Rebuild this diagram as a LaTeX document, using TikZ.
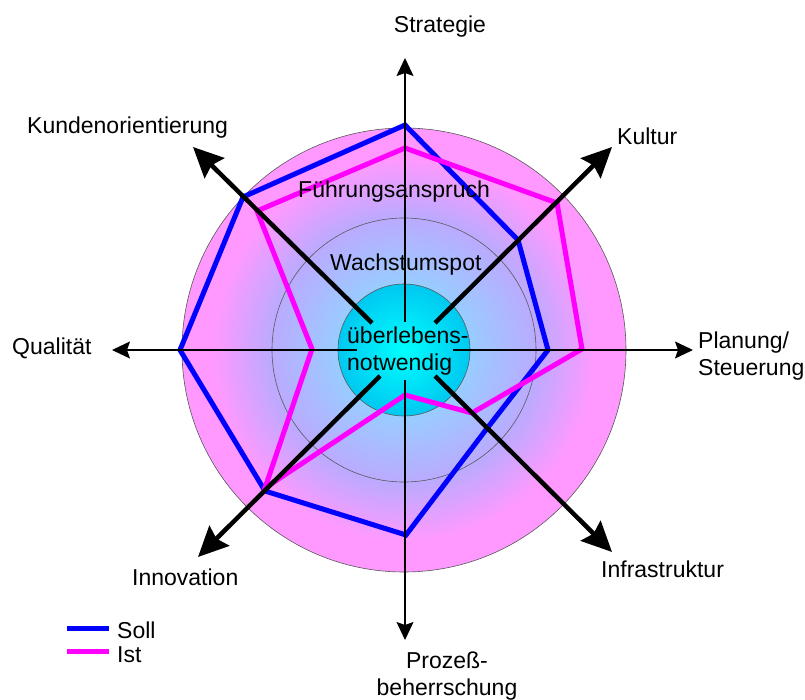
\documentclass[tikz,border=0pt]{standalone}
\usepackage{fontspec}
\setmainfont{Liberation Sans}
\usetikzlibrary{arrows.meta}
\definecolor{ringpink}{HTML}{FF99FF}
\definecolor{ringmid}{HTML}{BBAAFF}
\definecolor{ringin}{HTML}{99CCFF}
\definecolor{ringcore}{HTML}{66E6FF}
\definecolor{corein}{HTML}{00FFFF}
\definecolor{coreout}{HTML}{00C8F0}
\definecolor{sollblue}{HTML}{0000FF}
\definecolor{istmag}{HTML}{FF00FF}
\pgfdeclareradialshading{ringshade}{\pgfpoint{0bp}{0bp}}{color(0bp)=(ringcore); color(7.5bp)=(ringin); color(15bp)=(ringmid); color(21.5bp)=(ringpink); color(50bp)=(ringpink)}
\pgfdeclareradialshading{coreshade}{\pgfpoint{0bp}{0bp}}{color(0bp)=(corein); color(25bp)=(coreout); color(50bp)=(coreout)}
\begin{document}
\begin{tikzpicture}[x=1pt,y=-1pt,
  font=\fontsize{23}{26.5}\selectfont,
  lbl/.style={inner sep=0pt},
  thinaxis/.style={line width=1.3pt,-{Stealth[length=18pt,width=17pt,inset=3pt]}},
  bigarrow/.style={line width=4.5pt,-{Stealth[length=30pt,width=28pt,inset=4pt]}},
  soll/.style={draw=sollblue,line width=5pt},
  ist/.style={draw=istmag,line width=5pt},
  ringline/.style={draw=black!65,line width=0.6pt}]
\useasboundingbox (0,0) rectangle (805,700);
\coordinate (C) at (404,350);
% circles
\shade[shading=ringshade] (C) circle[radius=222];
\draw[ringline] (C) circle[radius=222];
\draw[ringline] (C) circle[radius=132];
\shade[shading=coreshade] (C) circle[radius=66];
\draw[ringline] (C) circle[radius=66];
% profiles
\draw[soll] (405,125) -- (518,240) -- (548,350) -- (485,431) -- (406,535) -- (265,491) -- (180,350) -- (243,197) -- cycle;
\draw[ist] (405,148) -- (557,203) -- (582,349) -- (472,413) -- (405,395) -- (265,488) -- (312,349) -- (257,211) -- cycle;
% axis coordinates
\coordinate (nIn) at (405,322); \coordinate (nTip) at (405,58);
\coordinate (sIn) at (405,380); \coordinate (sTip) at (405,640);
\coordinate (wIn) at (357,350); \coordinate (wTip) at (112,350);
\coordinate (eIn) at (453,350); \coordinate (eTip) at (693,350);
\coordinate (nwIn) at (372,323); \coordinate (nwTip) at (193,147);
\coordinate (neIn) at (435,323); \coordinate (neTip) at (612,147);
\coordinate (swIn) at (380,376); \coordinate (swTip) at (198,557);
\coordinate (seIn) at (435,376); \coordinate (seTip) at (612,552);
\draw[thinaxis] (nIn) -- (nTip);
\draw[thinaxis] (sIn) -- (sTip);
\draw[thinaxis] (wIn) -- (wTip);
\draw[thinaxis] (eIn) -- (eTip);
\draw[bigarrow] (nwIn) -- (nwTip);
\draw[bigarrow] (neIn) -- (neTip);
\draw[bigarrow] (swIn) -- (swTip);
\draw[bigarrow] (seIn) -- (seTip);
% labels
\node[lbl,anchor=base] (strat) at (440,33) {Strategie};
\node[lbl,anchor=base west] (kult) at (617,145) {Kultur};
\node[lbl,anchor=base west] (kund) at (27,134) {Kundenorientierung};
\node[lbl,anchor=base west] (qual) at (12,354) {Qualität};
\node[lbl,anchor=west,align=left] (plan) at (698,356) {Planung/\\Steuerung};
\node[lbl,anchor=base west] (inno) at (132,585) {Innovation};
\node[lbl,anchor=base west] (infra) at (601,577) {Infrastruktur};
\node[lbl,align=center] (proz) at (447,676) {Prozeß-\\beherrschung};
\node[lbl,anchor=base west] (fuehr) at (298,198) {Führungsanspruch};
\node[lbl,anchor=base west] (wachs) at (330,271) {Wachstumspot};
\node[lbl,anchor=west,align=left] (ueber) at (347,351) {überlebens-\\notwendig};
% legend
\coordinate (sollA) at (67,628); \coordinate (sollB) at (109,628);
\coordinate (istA) at (67,651); \coordinate (istB) at (109,651);
\draw[soll] (sollA) -- (sollB);
\draw[ist] (istA) -- (istB);
\node[lbl,anchor=base west] (sollT) at (117,638) {Soll};
\node[lbl,anchor=base west] (istT) at (117,662) {Ist};
\end{tikzpicture}
\end{document}
